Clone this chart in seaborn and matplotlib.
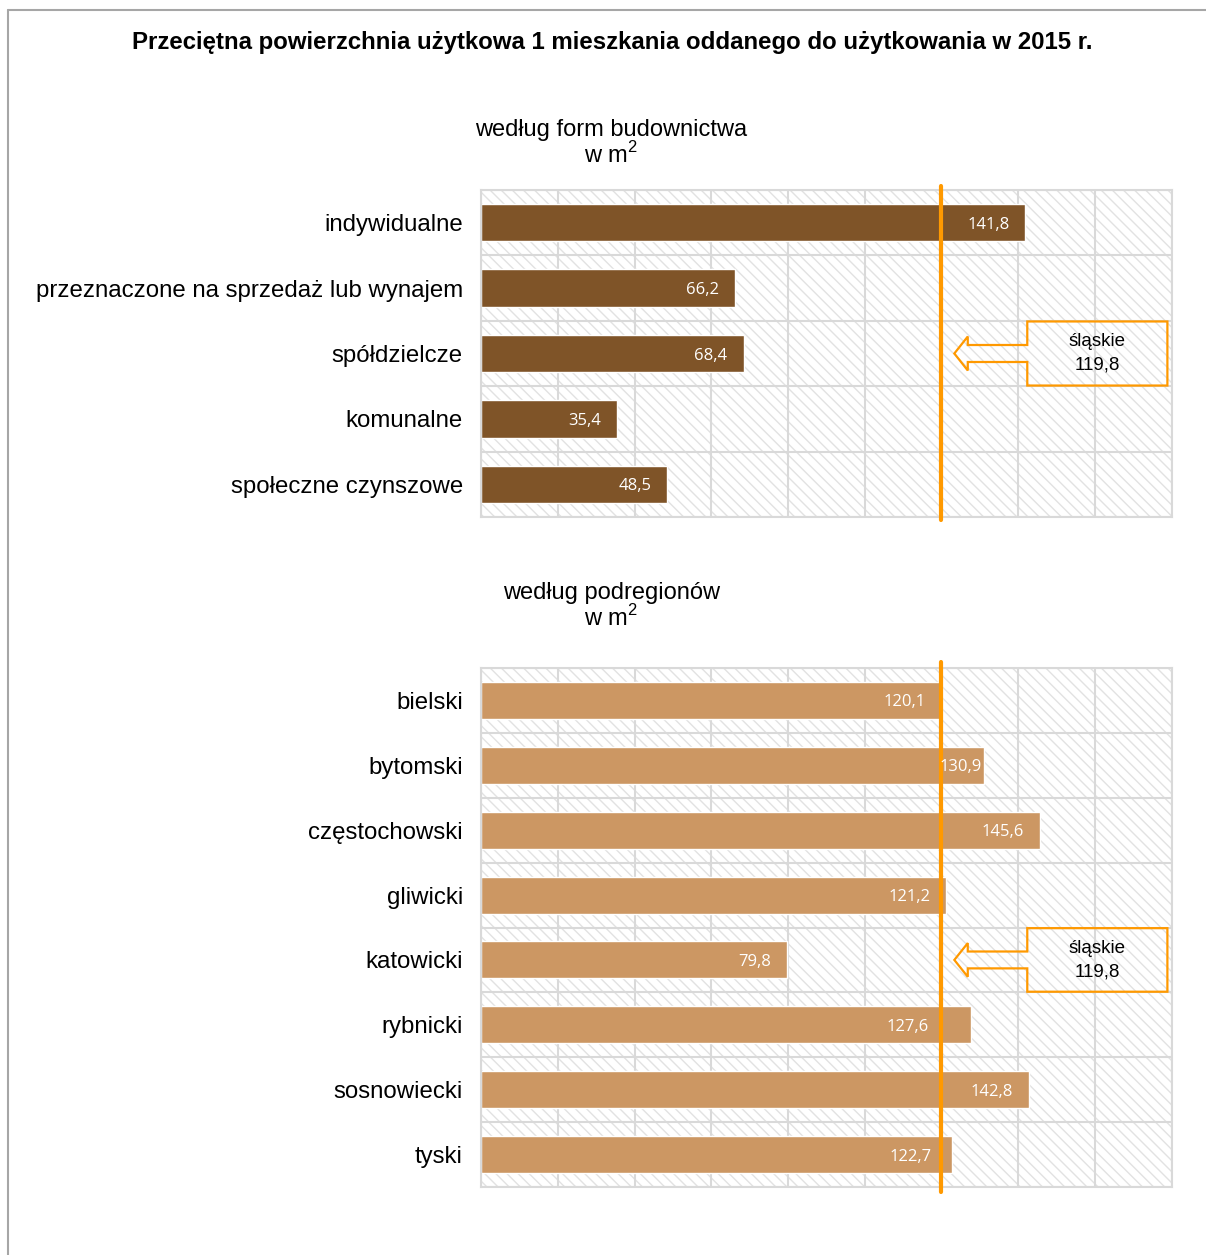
import numpy as np
import pandas as pd
import matplotlib.pyplot as plt
import seaborn as sns
from matplotlib.patches import Rectangle, Polygon
from matplotlib.lines import Line2D

# dane
forms = ['indywidualne', 'przeznaczone na sprzedaż lub wynajem', 'spółdzielcze',
         'komunalne', 'społeczne czynszowe']
forms_values = [141.8, 66.2, 68.4, 35.4, 48.5]

subregions = ['bielski', 'bytomski', 'częstochowski', 'gliwicki', 'katowicki',
              'rybnicki', 'sosnowiecki', 'tyski']
subregion_values = [120.1, 130.9, 145.6, 121.2, 79.8, 127.6, 142.8, 122.7]

slaskie = 119.8
slaskie_label = 'śląskie\n119,8'

title = 'Przeciętna powierzchnia użytkowa 1 mieszkania oddanego do użytkowania w 2015 r.'
sub_forms = 'według form budownictwa'
sub_regions = 'według podregionów'
unit = r'w m$^{\mathregular{2}}$'

sns.set_style('white')
FONT = ['Liberation Sans', 'DejaVu Sans']
plt.rcParams['font.family'] = FONT
plt.rcParams['text.color'] = 'black'
plt.rcParams['ytick.color'] = 'black'
plt.rcParams['ytick.labelcolor'] = 'black'
plt.rcParams['hatch.linewidth'] = 1.0

ORANGE = '#FF9900'
GRID = '#d9d9d9'
W, H = 1206, 1255

# przesunięcie etykiet wartości (pt), kilka ręcznie przesuniętych jak w oryginale
label_offset = {'bytomski': -1.5, 'rybnicki': -30, 'tyski': -15}
DEFAULT_OFFSET = -11.5


def fmt(v):
    return f'{v:.1f}'.replace('.', ',')


def draw_panel(ax, cats, vals, color, callout_idx):
    df = pd.DataFrame({'kat': cats, 'val': vals})
    n = len(cats)

    # kreskowane tło
    ax.add_patch(Rectangle((0, 0), 1, 1, transform=ax.transAxes, facecolor='white',
                           edgecolor='#e2e2e2', hatch='\\\\\\', lw=0, zorder=0))

    sns.barplot(data=df, x='val', y='kat', color=color, saturation=1, width=0.57,
                ax=ax, zorder=2)

    ax.set_xlim(0, 180)
    ax.set_ylim(n - 0.5, -0.5)
    ax.set_xticks(np.arange(0, 181, 20))
    ax.set_xticklabels([])
    ax.set_yticks(np.arange(-0.5, n, 1), minor=True)
    ax.set_axisbelow(True)
    ax.xaxis.grid(True, color=GRID, lw=1.5)
    ax.yaxis.grid(True, which='minor', color=GRID, lw=1.5)
    ax.yaxis.grid(False, which='major')
    ax.tick_params(axis='y', which='both', length=0, pad=13, labelsize=17.3)
    ax.tick_params(axis='x', length=0)
    ax.set_xlabel('')
    ax.set_ylabel('')
    for s in ax.spines.values():
        s.set_color(GRID)
        s.set_linewidth(1.5)

    # etykiety wartości
    for i, (c, v) in enumerate(zip(cats, vals)):
        ax.annotate(fmt(v), (v, i), xytext=(label_offset.get(c, DEFAULT_OFFSET), 0),
                    textcoords='offset points', ha='right', va='center_baseline',
                    color='white', fontsize=12, family=['Open Sans', 'DejaVu Sans'],
                    zorder=5)

    # linia województwa
    ax.axvline(slaskie, ymin=-0.01, ymax=1.012, clip_on=False, color=ORANGE, lw=3, zorder=4)

    # strzałka z opisem
    y0 = callout_idx
    tip, base, box_l, box_r = slaskie + 3.5, slaskie + 7, slaskie + 22.5, 178.8
    hh, sh, bh = 0.26, 0.13, 0.49
    pts = [(tip, y0), (base, y0 - hh), (base, y0 - sh), (box_l, y0 - sh),
           (box_l, y0 - bh), (box_r, y0 - bh), (box_r, y0 + bh), (box_l, y0 + bh),
           (box_l, y0 + sh), (base, y0 + sh), (base, y0 + hh)]
    ax.add_patch(Polygon(pts, closed=True, facecolor='none', edgecolor=ORANGE,
                         lw=1.6, zorder=4))
    ax.text((box_l + box_r) / 2, y0, slaskie_label, ha='center', va='center',
            fontsize=13.5, linespacing=1.5, zorder=5)


fig = plt.figure(figsize=(W / 100, H / 100), dpi=100)

ax1 = fig.add_axes([481 / W, 1 - 517 / H, 691 / W, 327 / H])
draw_panel(ax1, forms, forms_values, '#7F5428', 2)

ax2 = fig.add_axes([481 / W, 1 - 1187 / H, 691 / W, 519 / H])
draw_panel(ax2, subregions, subregion_values, '#CC9763', 4)

fig.text(612 / W, 1 - 43 / H, title, ha='center', va='center', fontsize=17.3,
         fontweight='bold', family=FONT)
fig.text(611 / W, 1 - 130 / H, sub_forms, ha='center', va='center', fontsize=17, family=FONT)
fig.text(611 / W, 1 - 155 / H, unit, ha='center', va='center', fontsize=17, family=FONT)
fig.text(612 / W, 1 - 593 / H, sub_regions, ha='center', va='center', fontsize=17, family=FONT)
fig.text(611 / W, 1 - 618 / H, unit, ha='center', va='center', fontsize=17, family=FONT)

# ramka
fig.add_artist(Line2D([8 / W, 8 / W], [0, 1 - 10 / H], transform=fig.transFigure,
                      color='#a6a6a6', lw=1.5))
fig.add_artist(Line2D([8 / W, 1], [1 - 10 / H, 1 - 10 / H], transform=fig.transFigure,
                      color='#a6a6a6', lw=1.5))

fig.savefig('out.png', dpi=100)
